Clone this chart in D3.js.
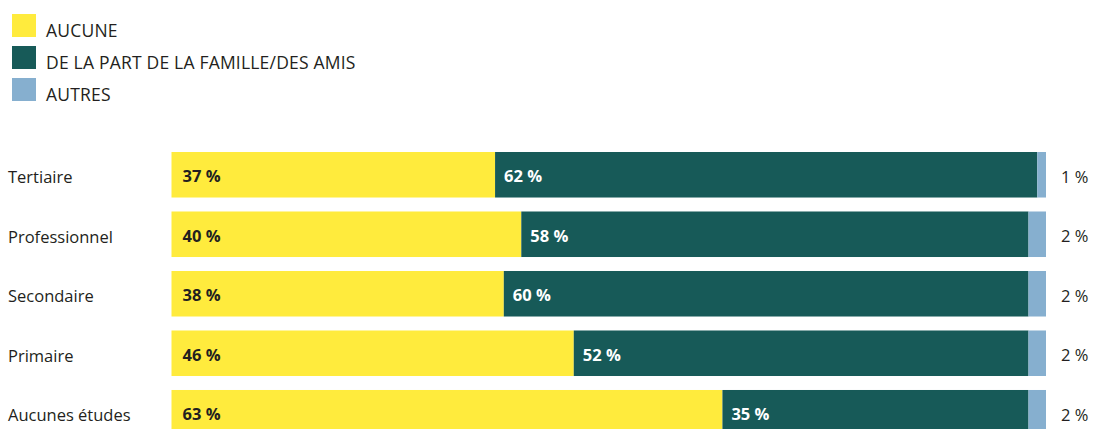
<!DOCTYPE html>
<html>
<head>
<meta charset="utf-8">
<script src="https://cdn.jsdelivr.net/npm/d3@7"></script>
<style>
  body { margin: 0; background: #fff; }
  text { font-family: "Open Sans", Lato, sans-serif; fill: #231f20; }
</style>
</head>
<body>
<script>
'use strict';

// chart data
const categories = ["Tertiaire", "Professionnel", "Secondaire", "Primaire", "Aucunes études"];
const aucune = [37, 40, 38, 46, 63];
const famille = [62, 58, 60, 52, 35];
const autres = [1, 2, 2, 2, 2];
const seriesNames = ["AUCUNE", "DE LA PART DE LA FAMILLE/DES AMIS", "AUTRES"];
const seriesColors = ["#ffeb3d", "#175a58", "#86afcf"];

(function() {
  const width = 1093, height = 429;
  const svg = d3.select('body').append('svg')
    .attr('width', width)
    .attr('height', height);

  // legend
  const legend = svg.append('g');
  seriesNames.forEach((name, i) => {
    legend.append('rect')
      .attr('x', 12).attr('y', 14 + i * 32)
      .attr('width', 24).attr('height', 23)
      .attr('fill', seriesColors[i]);
    legend.append('text')
      .attr('x', 46).attr('y', 36.5 + i * 32)
      .style('font-size', '17.5px')
      .style('letter-spacing', '0.2px')
      .text(name);
  });

  // scales
  const x = d3.scaleLinear().domain([0, 100]).range([171.5, 1046]);
  const y = d3.scaleBand().domain(categories).range([152, 435.5]).paddingInner(0.235).paddingOuter(0);

  // build stacked rows
  const rows = categories.map((c, i) => ({ cat: c, vals: [aucune[i], famille[i], autres[i]] }));
  const series = d3.stack().keys([0, 1, 2]).value((d, k) => d.vals[k])(rows);

  series.forEach((s, k) => {
    svg.append('g').selectAll('rect')
      .data(s)
      .enter()
      .append('rect')
        .attr('x', d => x(d[0]))
        .attr('y', d => y(d.data.cat))
        .attr('width', d => x(d[1]) - x(d[0]))
        .attr('height', y.bandwidth())
        .attr('fill', seriesColors[k]);
  });

  const pct = v => v + ' %';
  const mid = d => y(d) + y.bandwidth() / 2;

  // labels inside bars (first two series)
  series.slice(0, 2).forEach((s, k) => {
    svg.append('g').selectAll('text')
      .data(s)
      .enter()
      .append('text')
        .attr('x', d => x(d[0]) + (k === 0 ? 11 : 9))
        .attr('y', d => mid(d.data.cat) + 7.5)
        .style('font-size', '16.5px')
        .style('font-weight', 'bold')
        .style('fill', k === 0 ? '#231f20' : '#ffffff')
        .text(d => pct(d.data.vals[k]));
  });

  // labels to the right (autres)
  svg.append('g').selectAll('text')
    .data(series[2])
    .enter()
    .append('text')
      .attr('x', 1061)
      .attr('y', d => mid(d.data.cat) + 8)
      .style('font-size', '16.5px')
      .text(d => pct(d.data.vals[2]));

  // category labels
  svg.append('g').selectAll('text')
    .data(categories)
    .enter()
    .append('text')
      .attr('x', 8)
      .attr('y', d => mid(d) + 8.5)
      .style('font-size', '16.5px')
      .text(d => d);
})();
</script>
</body>
</html>
